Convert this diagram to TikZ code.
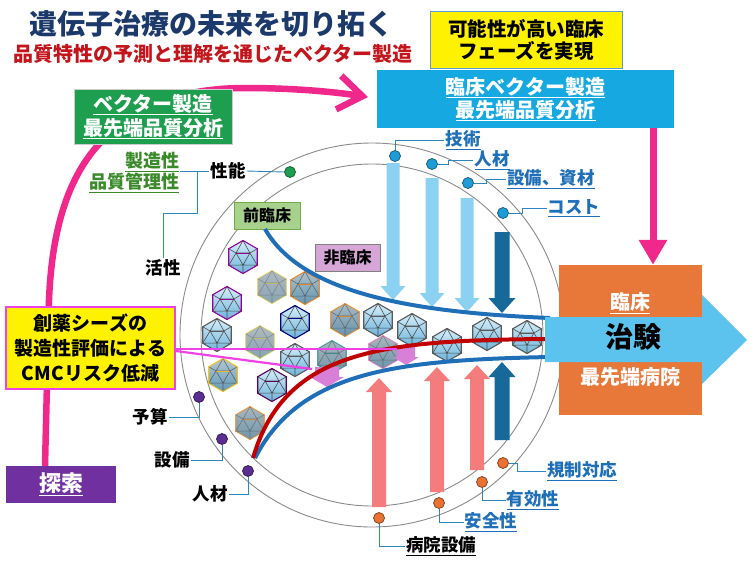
\documentclass[tikz,border=0pt]{standalone}
\usepackage{fontspec}
\setmainfont{Noto Sans CJK JP}
\newfontfamily\jheavy{Noto Sans CJK JP Black}
\usetikzlibrary{arrows.meta,calc}

\definecolor{titlenavy}{HTML}{1B3A6B}
\definecolor{subred}{HTML}{C3151C}
\definecolor{boxblue}{HTML}{5B9BD5}
\definecolor{cyanbox}{HTML}{16A9E1}
\definecolor{greenbox}{HTML}{1E9E4F}
\definecolor{orangebox}{HTML}{E8773A}
\definecolor{trialblue}{HTML}{5CC3EE}
\definecolor{purplebox}{HTML}{7030A0}
\definecolor{pinkline}{HTML}{F0288C}
\definecolor{magline}{HTML}{F040E8}
\definecolor{zengreen}{HTML}{A9D18E}
\definecolor{zenedge}{HTML}{70AD47}
\definecolor{hiviolet}{HTML}{D5A6D6}
\definecolor{curveblue}{HTML}{1F6EB8}
\definecolor{curvered}{HTML}{C00000}
\definecolor{ringgray}{HTML}{8A8A8A}
\definecolor{linkblue}{HTML}{2E86C1}
\definecolor{lblblue}{HTML}{1F6FB8}
\definecolor{lblgreen}{HTML}{3A8A2A}
\definecolor{arrlight}{HTML}{8AD1F2}
\definecolor{arrdark}{HTML}{17699A}
\definecolor{arrsalmon}{HTML}{F47C7C}
\definecolor{orchidarr}{HTML}{D880D8}
\definecolor{virtop}{HTML}{D4EEFA}
\definecolor{virbot}{HTML}{6DB3DB}
\definecolor{dotpurple}{HTML}{5B2C91}
\definecolor{dotblue}{HTML}{1E9CD7}
\definecolor{dotorange}{HTML}{E97132}
\definecolor{dotgreen}{HTML}{1E9E4F}

% bold text at a given size
\newcommand\jfs[2]{\fontsize{#1}{#2}\selectfont\bfseries}
% heavy text at a given size
\newcommand\jhs[2]{\fontsize{#1}{#2}\selectfont\jheavy}

% block arrows drawn as outlines: x, tail y, tip y, half shaft, half head, head length, colour
\newcommand\downarr[7]{%
  \fill[#7] ({#1-#4},#2) -- ({#1+#4},#2) -- ({#1+#4},{#3-#6}) -- ({#1+#5},{#3-#6})
    -- (#1,#3) -- ({#1-#5},{#3-#6}) -- ({#1-#4},{#3-#6}) -- cycle;}
\newcommand\uparr[7]{%
  \fill[#7] ({#1-#4},#2) -- ({#1+#4},#2) -- ({#1+#4},{#3+#6}) -- ({#1+#5},{#3+#6})
    -- (#1,#3) -- ({#1-#5},{#3+#6}) -- ({#1-#4},{#3+#6}) -- cycle;}

% icosahedral vector particle: position, edge colour, opacity
\newcommand\virusat[3]{%
  \begin{scope}[shift={#1}, opacity=#3]
    \fill[top color=virtop, bottom color=virbot]
      (30:16.5) -- (90:16.5) -- (150:16.5) -- (210:16.5) -- (270:16.5) -- (330:16.5) -- cycle;
    \draw[gray!60!black, line width=0.6pt]
      (210:8) -- (330:8) -- (90:8) -- cycle
      (210:8) -- (210:16.5) (210:8) -- (270:16.5) (210:8) -- (150:16.5)
      (330:8) -- (330:16.5) (330:8) -- (270:16.5) (330:8) -- (30:16.5)
      (90:8) -- (90:16.5) (90:8) -- (150:16.5) (90:8) -- (30:16.5);
    \draw[#2, line width=0.9pt] (210:8) -- (330:8);
    \draw[#2, line width=1.1pt]
      (30:16.5) -- (90:16.5) -- (150:16.5) -- (210:16.5) -- (270:16.5) -- (330:16.5) -- cycle;
  \end{scope}}

\begin{document}
\begin{tikzpicture}[x=1pt, y=-1pt,
  box/.style={align=center, inner sep=0pt},
  lbl/.style={font=\jfs{17.5}{20}, inner sep=1pt, align=center},
  bluelbl/.style={lbl, text=lblblue},
  dotnode/.style={circle, draw=#1!55!black, fill=#1, line width=0.7pt, minimum size=11pt, inner sep=0pt},
  link/.style={draw=linkblue, line width=0.9pt},
  ring/.style={draw=ringgray, line width=0.9pt},
  pinkpath/.style={draw=pinkline, line width=6.5pt},
  magpath/.style={draw=magline, line width=2.2pt}]
\useasboundingbox (0,0) rectangle (755,563);

% ---------------- title ----------------
\node[text=titlenavy, font=\jhs{28}{30}] (title) at (211,24) {遺伝子治療の未来を切り拓く};
\node[text=subred, font=\jhs{20}{22}] (sub) at (213,54) {品質特性の予測と理解を通じたベクター製造};

% ---------------- pink flow from exploration to clinical manufacturing ----------------
\coordinate (pinkx) at (45,0);
\coordinate (pinkend) at (368,97);
\node[box, fill=purplebox, minimum width=110pt, minimum height=37pt, text=white, font=\jhs{22}{24}]
  (tansaku) at (61,484.5) {\underline{探索}};
\draw[pinkpath, -{Straight Barb[length=24pt,width=34pt]}]
  (tansaku.north -| pinkx) -- (49,300) .. controls (52,225) and (70,175) .. (100,143)
  .. controls (135,100) and (195,88) .. (245,88) .. controls (295,88) and (335,92) .. (pinkend);

% ---------------- boxes ----------------
\node[box, fill=yellow, draw=boxblue, line width=1pt, minimum width=192pt, minimum height=57pt,
  font=\jhs{19.5}{22}] (goal) at (526,39.5) {可能性が高い臨床\\フェーズを実現};
\node[box, fill=cyanbox, minimum width=297pt, minimum height=58pt, text=white, font=\jhs{20}{23}]
  (clin) at (525.5,99) {\underline{臨床ベクター製造}\\\underline{最先端品質分析}};
\node[box, fill=greenbox, draw=gray!40, line width=0.8pt, minimum width=158pt, minimum height=55pt,
  text=white, font=\jhs{20}{24}]
  (vec) at (153,116.5) {\underline{ベクター製造}\\\underline{最先端品質分析}};

% ---------------- circle ----------------
\coordinate (cc) at (372,335);
\draw[ring] (cc) circle[radius=192];
\draw[ring] (cc) circle[radius=171];

% top arrows (resources) and bottom arrows (clinical requirements)
\downarr{393}{163}{300}{6.5}{12.5}{14}{arrlight}
\downarr{432}{178}{307}{6.5}{12.5}{14}{arrlight}
\downarr{467}{198}{312}{6.5}{12.5}{14}{arrlight}
\downarr{502}{232}{313}{7.5}{13.5}{15}{arrdark}
\uparr{379}{507}{378}{7}{13}{14}{arrsalmon}
\uparr{437}{492}{367}{7}{13}{14}{arrsalmon}
\uparr{477}{470}{365}{7}{13}{14}{arrsalmon}
\uparr{502}{440}{362}{7.5}{13.5}{15}{arrdark}

% vector particles
\virusat{(243,257)}{violet!80!magenta}{1}
\virusat{(272,287)}{yellow!70!orange}{0.4}
\virusat{(305,288)}{orange}{0.75}
\virusat{(227,303)}{violet!80!magenta}{1}
\virusat{(295,322)}{blue!50!black}{1}
\virusat{(217,335)}{gray!70!black}{1}
\virusat{(260,342)}{yellow!80!orange}{0.4}
\virusat{(345,320)}{orange}{0.65}
\virusat{(378,320)}{gray!70!black}{1}
\virusat{(412,330)}{gray!70!black}{1}
\virusat{(295,360)}{gray!70!black}{1}
\virusat{(332,357)}{teal}{0.55}
\virusat{(383,352)}{magenta!60}{0.55}
\virusat{(447,345)}{gray!70!black}{1}
\virusat{(487,334)}{gray!70!black}{1}
\virusat{(527,337)}{gray!70!black}{1}
\virusat{(223,375)}{yellow!60!orange}{0.8}
\virusat{(272,385)}{violet!70!black}{1}
\virusat{(250,423)}{orange}{0.55}

% small selection arrows
\downarr{327}{367}{387}{12}{17}{10}{orchidarr}
\downarr{406}{346}{365}{9}{13}{8}{orchidarr}

% stage labels
\node[box, fill=zengreen, draw=zenedge, line width=0.8pt, minimum width=66pt, minimum height=27pt,
  font=\jhs{16}{18}] (zen) at (267,215.5) {前臨床};
\node[box, fill=hiviolet, draw=gray, line width=0.8pt, minimum width=65pt, minimum height=27pt,
  font=\jhs{16}{18}] (hi) at (347.5,257.5) {非臨床};

% funnel curves
\draw[curveblue, line width=4pt] (265,229) .. controls (300,290) and (400,312) .. (550,318);
\draw[curveblue, line width=4pt] (255,458) .. controls (300,370) and (400,360) .. (550,357);
\draw[curvered, line width=4pt] (253,458) .. controls (285,350) and (380,340) .. (550,339);

% ---------------- clinical trial ----------------
\node[box, fill=orangebox, minimum width=143pt, minimum height=150pt] (hosp) at (630.5,340) {};
\node[text=white, font=\jhs{20}{22}] (rinsho) at (630,303) {\underline{臨床}};
\node[text=white, font=\jhs{20}{22}] (saisentan) at (630,377) {最先端病院};
\fill[trialblue] (545,317) -- (702,317) -- (702,295) -- (747,340) -- (702,384) -- (702,362)
  -- (545,362) -- cycle;
\node[font=\jhs{28}{30}] (chiken) at (633,337) {治験};
\coordinate (arrx) at (653,0);
\draw[draw=pinkline, line width=7pt, -{Triangle[length=25pt,width=27pt]}]
  (clin.south -| arrx) -- (hosp.north -| arrx);

% ---------------- CMC risk box ----------------
\node[box, fill=yellow, draw=magline, line width=2pt, minimum width=169pt, minimum height=82pt,
  font=\jhs{19}{25}] (cmc) at (90.5,348) {創薬シーズの\\製造性評価による\\CMCリスク低減};
\coordinate (selA) at (312,369);
\coordinate (selB) at (397,349);
\draw[magpath] (cmc.east |- selB) -- (selB);
\draw[magpath] ([yshift=-3pt]cmc.east) -- (selA);

% ---------------- ring markers and labels ----------------
% performance (upper left)
\node[dotnode=dotgreen] (dseino) at (290,172) {};
\node[lbl] (seino) at (228,171) {性能};
\node[lbl, text=lblgreen, align=right, font=\jfs{18}{21}] (seizo) at (134,172.5)
  {\underline{製造性}\\\underline{品質管理性}};
\node[lbl] (kassei) at (163,268) {活性};
\coordinate (brk) at (197,171);
\draw[link] (seino.east) -- (dseino.west);
\draw[link] (seizo.east |- brk) -- (seino.west);
\draw[link] (brk) -- ++(0,42) -| (kassei.north);

% resources (upper right)
\node[dotnode=dotblue] (dgij) at (395,156) {};
\node[dotnode=dotblue] (djin) at (432,164) {};
\node[dotnode=dotblue] (dset) at (468,183) {};
\node[dotnode=dotblue] (dcost) at (503,213) {};
\node[bluelbl] (lgij) at (463,140) {\underline{技術}};
\node[bluelbl] (ljin) at (492,160) {\underline{人材}};
\node[bluelbl] (lset) at (551,179) {\underline{設備、資材}};
\node[bluelbl] (lcost) at (574,208) {\underline{コスト}};
\draw[link] (dgij.north) |- (lgij.west);
\draw[link] (djin.east) -- ++(11,0) |- (ljin.west);
\draw[link] (dset.east) -- ++(13,0) |- (lset.west);
\draw[link] (dcost.east) -- ++(14,0) |- (lcost.west);

% clinical requirements (lower right)
\node[dotnode=dotorange] (dkisei) at (503,463) {};
\node[dotnode=dotorange] (dyuko) at (482,482) {};
\node[dotnode=dotorange] (danzen) at (439,503) {};
\node[dotnode=dotorange] (dbyoin) at (379,518) {};
\node[bluelbl] (lkisei) at (582,471) {\underline{規制対応}};
\node[bluelbl] (lyuko) at (533,500) {\underline{有効性}};
\node[bluelbl] (lanzen) at (491,522) {\underline{安全性}};
\node[lbl] (lbyoin) at (441,546) {\underline{病院設備}};
\draw[link] (dkisei.east) -- ++(9,0) |- (lkisei.west);
\draw[link] (dyuko.south) |- (lyuko.west);
\draw[link] (danzen.south) |- (lanzen.west);
\draw[link] (dbyoin.south) |- (lbyoin.west);

% exploration resources (lower left)
\node[dotnode=dotpurple] (dyosan) at (199,397) {};
\node[dotnode=dotpurple] (dsetsubi) at (222,439) {};
\node[dotnode=dotpurple] (djinzai) at (248,471) {};
\node[lbl] (lyosan) at (150,417) {予算};
\node[lbl] (lsetsubi) at (172,460) {設備};
\node[lbl] (ljinzai) at (210,494) {人材};
\draw[link] (dyosan.south) |- (lyosan.east);
\draw[link] (dsetsubi.south) |- (lsetsubi.east);
\draw[link] (djinzai.south) |- (ljinzai.east);
\end{tikzpicture}
\end{document}
